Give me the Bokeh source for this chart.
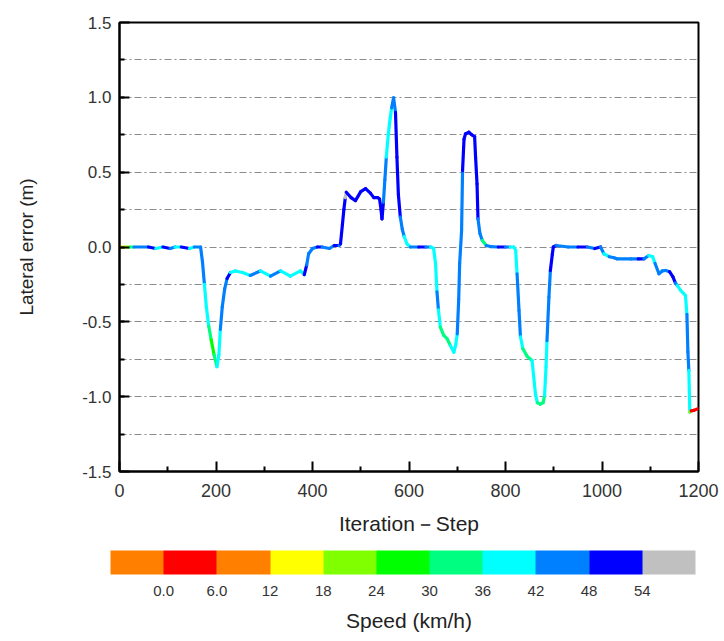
from bokeh.plotting import figure
from bokeh.models import (ColumnDataSource, LinearColorMapper, ColorBar, FixedTicker,
                          Title, NumeralTickFormatter)
from bokeh.embed import file_html
from bokeh.resources import INLINE

# ---- data ----
steps = [0, 4, 10, 22, 30, 60, 75, 90, 105, 115, 128, 145, 155, 168,
         172, 176, 180, 185, 190, 196, 202, 206, 209, 213, 218, 223, 230, 240, 255,
         271, 292, 313, 334, 354, 375, 383, 388, 392, 400, 410, 420, 435, 445, 455,
         458, 462, 465, 468, 470, 480, 489, 500, 510, 520, 527, 535, 539, 542, 544,
         547, 550, 553, 557, 561, 564, 568, 572, 575, 578, 582, 586, 590, 596, 603,
         620, 635, 645, 651, 655, 658, 661, 665, 672, 679, 686, 693, 697, 700, 703,
         705, 709, 711, 714, 717, 724, 730, 736, 738, 741, 743, 747, 752, 760, 769,
         785, 800, 810, 817, 821, 824, 828, 831, 836, 845, 855, 862, 866, 872, 878,
         881, 884, 886, 890, 893, 897, 899, 905, 930, 950, 970, 985, 997, 1004, 1015,
         1025, 1031, 1060, 1075, 1087, 1097, 1105, 1110, 1118, 1125, 1132, 1140, 1147,
         1152, 1156, 1163, 1173, 1176, 1178, 1180, 1182, 1185, 1190, 1199]
lateral_error = [0.0, 0.0, 0.0, 0.0, 0.0, 0.0, -0.01, 0.0, -0.01, 0.0, 0.0, -0.01, 0.0, 0.0,
                 -0.1, -0.25, -0.4, -0.53, -0.62, -0.72, -0.80, -0.72, -0.55, -0.4, -0.28, -0.21, -0.17, -0.16, -0.17,
                 -0.19, -0.16, -0.195, -0.16, -0.195, -0.16, -0.185, -0.12, -0.045, -0.01, 0.0, 0.0, -0.01, 0.01, 0.01,
                 0.02, 0.15, 0.25, 0.33, 0.366, 0.33, 0.31, 0.37, 0.39, 0.36, 0.33, 0.33, 0.32, 0.25, 0.188,
                 0.3, 0.45, 0.6, 0.75, 0.86, 0.93, 0.997, 0.9, 0.6, 0.35, 0.2, 0.12, 0.07, 0.02, 0.0,
                 0.0, 0.0, 0.0, -0.01, -0.11, -0.3, -0.42, -0.535, -0.59, -0.613, -0.66, -0.703, -0.65, -0.58, -0.35,
                 -0.11, 0.11, 0.51, 0.72, 0.756, 0.767, 0.75, 0.738, 0.6, 0.422, 0.188, 0.09, 0.043, 0.01, 0.003,
                 0.0, 0.0, 0.0, 0.0, -0.02, -0.179, -0.424, -0.6, -0.68, -0.731, -0.758, -0.98, -1.04, -1.05, -1.04,
                 -0.992, -0.8, -0.625, -0.335, -0.157, -0.05, 0.0, 0.01, 0.0, 0.0, 0.0, -0.01, 0.0, -0.045, -0.065,
                 -0.072, -0.079, -0.08, -0.08, -0.079, -0.057, -0.065, -0.11, -0.179, -0.16, -0.157, -0.165, -0.2,
                 -0.24, -0.257, -0.29, -0.324, -0.45, -0.7, -0.825, -1.103, -1.095, -1.092, -1.08]
speed = [9, 15, 21, 33, 45, 51, 39, 51, 45, 39, 51, 39, 45, 45,
         45, 39, 39, 33, 27, 33, 39, 39, 45, 45, 45, 51, 39, 39, 39,
         45, 39, 45, 39, 39, 39, 51, 45, 45, 45, 51, 45, 45, 51, 45,
         51, 51, 51, 57, 51, 51, 51, 51, 51, 51, 51, 51, 51, 51, 51,
         45, 45, 39, 39, 39, 45, 45, 51, 51, 51, 45, 45, 39, 39, 45,
         51, 45, 39, 39, 39, 45, 39, 33, 33, 33, 39, 39, 39, 45, 45,
         45, 45, 51, 51, 51, 51, 51, 51, 51, 51, 45, 45, 33, 45, 45,
         51, 45, 39, 39, 39, 45, 45, 39, 33, 33, 39, 39, 33, 33, 33,
         39, 39, 45, 45, 51, 51, 51, 45, 45, 51, 45, 51, 45, 39, 45,
         45, 45, 45, 51, 45, 39, 39, 45, 45, 45, 45, 51, 51,
         45, 39, 39, 39, 45, 45, 39, 21, 3, 3, 3]

speed_palette = ["#FF8000", "#FF0000", "#FF8000", "#FFFF00", "#80FF00", "#00FF00",
                 "#00FF80", "#00FFFF", "#0080FF", "#0000FF", "#C0C0C0"]
speed_ticks = [0, 6, 12, 18, 24, 30, 36, 42, 48, 54]
speed_tick_labels = ["0.0", "6.0", "12", "18", "24", "30", "36", "42", "48", "54"]
y_ticks = [-1.5, -1.0, -0.5, 0.0, 0.5, 1.0, 1.5]
y_grid = [-1.25, -1.0, -0.75, -0.5, -0.25, 0.0, 0.25, 0.5, 0.75, 1.0, 1.25]
x_ticks = [0, 200, 400, 600, 800, 1000, 1200]
x_minor = [100, 300, 500, 700, 900, 1100]

# ---- figure ----
FONT = "Liberation Sans"
TXT = "#333333"

src = ColumnDataSource(dict(x0=steps[:-1], y0=lateral_error[:-1],
                            x1=steps[1:], y1=lateral_error[1:], spd=speed[:-1]))
mapper = LinearColorMapper(palette=speed_palette, low=-6, high=60)

p = figure(width=724, height=641, x_range=(0, 1200), y_range=(-1.5, 1.5),
           output_backend="svg", toolbar_location=None,
           min_border_left=119, min_border_right=26, min_border_top=22, min_border_bottom=170)
p.background_fill_color = "white"
p.border_fill_color = "white"
p.outline_line_color = "black"
p.outline_line_width = 2

p.segment(x0="x0", y0="y0", x1="x1", y1="y1", source=src,
          line_color={"field": "spd", "transform": mapper}, line_width=3.2, line_cap="round")

p.xgrid.visible = False
p.ygrid.ticker = FixedTicker(ticks=y_grid)
p.ygrid.grid_line_color = "#8c8c8c"
p.ygrid.grid_line_dash = "7 3 2 3"
p.ygrid.grid_line_width = 1

p.yaxis.ticker = FixedTicker(ticks=y_ticks, minor_ticks=y_grid)
p.yaxis.formatter = NumeralTickFormatter(format="0.0")
p.xaxis.ticker = FixedTicker(ticks=x_ticks, minor_ticks=x_minor)

for ax in (p.xaxis[0], p.yaxis[0]):
    ax.axis_line_width = 2
    ax.axis_line_color = "black"
    ax.major_tick_in = 10
    ax.major_tick_out = 0
    ax.minor_tick_in = 5
    ax.minor_tick_out = 0
    ax.major_tick_line_width = 2
    ax.minor_tick_line_width = 2
    ax.major_label_text_font = FONT
    ax.major_label_text_color = TXT
    ax.major_label_text_font_size = "17px"
    ax.axis_label_text_font = FONT
    ax.axis_label_text_font_style = "normal"
    ax.axis_label_text_color = "#222222"

p.xaxis.major_label_text_font_size = "18px"
p.xaxis.axis_label = "Iteration－Step"
p.xaxis.axis_label_text_font_size = "21px"
p.xaxis.major_label_standoff = 12
p.xaxis.axis_label_standoff = 12
p.yaxis.axis_label = "Lateral error (m)"
p.yaxis.axis_label_text_font_size = "19px"
p.yaxis.major_label_standoff = 8
p.yaxis.axis_label_standoff = 42

# small empty spacer between the x axis and the colour bar
p.add_layout(Title(text="\u00a0", text_font_size="10px", standoff=0), "below")

cb = ColorBar(color_mapper=mapper, orientation="horizontal", width=585, height=24,
              ticker=FixedTicker(ticks=speed_ticks),
              major_label_overrides={t: l for t, l in zip(speed_ticks, speed_tick_labels)},
              major_tick_line_color=None, bar_line_color=None,
              major_label_text_font=FONT, major_label_text_font_size="15px",
              major_label_text_color=TXT, label_standoff=11,
              padding=0, margin=0, location=(-9, 0),
              background_fill_color="white", border_line_color=None)
p.add_layout(cb, "below")
p.add_layout(Title(text="Speed (km/h)", align="center", text_font=FONT,
                   text_font_size="21px", text_font_style="normal",
                   text_color="#222222", standoff=17), "below")

open("out.html", "w").write(file_html(p, INLINE))
